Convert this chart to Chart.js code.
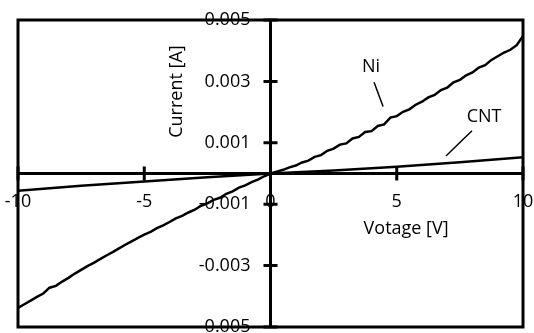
<!DOCTYPE html>
<html>
<head>
<meta charset="utf-8">
<script src="https://cdn.jsdelivr.net/npm/chart.js@4"></script>
<style>
  body { margin: 0; background: #fff; }
  canvas { display: block; }
</style>
</head>
<body>
<canvas id="ivChart" width="534" height="333"></canvas>
<script>
// voltage sweep (V)
const voltage = [
  -10, -9.75, -9.5, -9.25, -9, -8.75, -8.5, -8.25, -8, -7.75,
  -7.5, -7.25, -7, -6.75, -6.5, -6.25, -6, -5.75, -5.5, -5.25,
  -5, -4.75, -4.5, -4.25, -4, -3.75, -3.5, -3.25, -3, -2.75,
  -2.5, -2.25, -2, -1.75, -1.5, -1.25, -1, -0.75, -0.5, -0.25,
  0, 0.25, 0.5, 0.75, 1, 1.25, 1.5, 1.75, 2, 2.25,
  2.5, 2.75, 3, 3.25, 3.5, 3.75, 4, 4.25, 4.5, 4.75,
  5, 5.25, 5.5, 5.75, 6, 6.25, 6.5, 6.75, 7, 7.25,
  7.5, 7.75, 8, 8.25, 8.5, 8.75, 9, 9.25, 9.5, 9.75, 10
];

// Ni current (A)
const niCurrent = [
  -0.00438, -0.00426, -0.00414, -0.00402, -0.00391, -0.00372, -0.00366, -0.00352, -0.00340, -0.00326,
  -0.00314, -0.00302, -0.00291, -0.00279, -0.00267, -0.00256, -0.00244, -0.00232, -0.00221, -0.00210,
  -0.00199, -0.00190, -0.00178, -0.00169, -0.00158, -0.00146, -0.00138, -0.00127, -0.00118, -0.00105,
  -0.00097, -0.00086, -0.00079, -0.00066, -0.00058, -0.00046, -0.00039, -0.00028, -0.00020, -0.00009,
  0, 0.00006, 0.00012, 0.00020, 0.00026, 0.00036, 0.00042, 0.00054, 0.00060, 0.00074,
  0.00081, 0.00094, 0.00098, 0.00114, 0.00119, 0.00135, 0.00138, 0.00155, 0.00160, 0.00182,
  0.00187, 0.00201, 0.00209, 0.00224, 0.00234, 0.00248, 0.00256, 0.00272, 0.00280, 0.00297,
  0.00305, 0.00320, 0.00329, 0.00345, 0.00353, 0.00370, 0.00382, 0.00394, 0.00403, 0.00418, 0.00448
];

// CNT current (A)
const cntVoltage = [-10, -7.5, -5, -2.5, 0, 2.5, 5, 7.5, 10];
const cntCurrent = [-0.00056, -0.00040, -0.00026, -0.00012, 0, 0.00010, 0.00022, 0.00037, 0.00053];

const xTicks = [-10, -5, 0, 5, 10];
const yTicks = [-0.005, -0.003, -0.001, 0.001, 0.003, 0.005];
const xTitle = 'Votage [V]';
const yTitle = 'Current [A]';

// labels with leader lines, placed in data units
const callouts = [
  { text: 'Ni', at: [3.98, 0.00347], from: [4.1, 0.00297], to: [4.46, 0.00218] },
  { text: 'CNT', at: [8.46, 0.00185], from: [7.98, 0.00139], to: [6.95, 0.00057] }
];

const FONT = '18px "Open Sans"';

const axesPlugin = {
  id: 'crossAxes',
  beforeDatasetsDraw(chart) {
    const ctx = chart.ctx;
    const xs = chart.scales.x, ys = chart.scales.y;
    const x0 = xs.getPixelForValue(0), y0 = ys.getPixelForValue(0);
    ctx.save();
    ctx.fillStyle = '#000';
    ctx.font = FONT;
    // tick labels
    ctx.textAlign = 'right';
    ctx.textBaseline = 'middle';
    yTicks.forEach(v => ctx.fillText(v.toFixed(3), x0 - 20, ys.getPixelForValue(v)));
    ctx.textAlign = 'center';
    xTicks.forEach(v => ctx.fillText(String(v), xs.getPixelForValue(v), y0 + 28));
    // axis titles
    ctx.fillText(xTitle, xs.getPixelForValue(5.37), ys.getPixelForValue(-0.00179));
    ctx.save();
    ctx.translate(xs.getPixelForValue(-3.72), ys.getPixelForValue(0.00267));
    ctx.rotate(-Math.PI / 2);
    ctx.fillText(yTitle, 0, 0);
    ctx.restore();
    ctx.restore();
  },
  afterDatasetsDraw(chart) {
    const ctx = chart.ctx;
    const a = chart.chartArea;
    const xs = chart.scales.x, ys = chart.scales.y;
    const x0 = xs.getPixelForValue(0), y0 = ys.getPixelForValue(0);
    ctx.save();
    ctx.strokeStyle = '#000';
    ctx.lineWidth = 3;
    ctx.strokeRect(a.left, a.top, a.right - a.left, a.bottom - a.top);
    ctx.beginPath();
    ctx.moveTo(a.left, y0); ctx.lineTo(a.right, y0);
    ctx.moveTo(x0, a.top); ctx.lineTo(x0, a.bottom);
    // crossing tick marks
    xTicks.forEach(v => {
      const px = xs.getPixelForValue(v);
      ctx.moveTo(px, y0 - 7); ctx.lineTo(px, y0 + 7);
    });
    yTicks.forEach(v => {
      const py = ys.getPixelForValue(v);
      ctx.moveTo(x0 - 7, py); ctx.lineTo(x0 + 7, py);
    });
    ctx.stroke();
    // callouts
    ctx.lineWidth = 1.5;
    ctx.fillStyle = '#000';
    ctx.font = FONT;
    ctx.textAlign = 'center';
    ctx.textBaseline = 'middle';
    callouts.forEach(c => {
      ctx.fillText(c.text, xs.getPixelForValue(c.at[0]), ys.getPixelForValue(c.at[1]));
      ctx.beginPath();
      ctx.moveTo(xs.getPixelForValue(c.from[0]), ys.getPixelForValue(c.from[1]));
      ctx.lineTo(xs.getPixelForValue(c.to[0]), ys.getPixelForValue(c.to[1]));
      ctx.stroke();
    });
    ctx.restore();
  }
};

new Chart(document.getElementById('ivChart'), {
  type: 'scatter',
  data: {
    datasets: [
      {
        label: 'Ni',
        data: voltage.map((v, i) => ({ x: v, y: niCurrent[i] })),
        showLine: true,
        borderColor: '#000',
        borderWidth: 2.5,
        pointRadius: 0,
        tension: 0
      },
      {
        label: 'CNT',
        data: cntVoltage.map((v, i) => ({ x: v, y: cntCurrent[i] })),
        showLine: true,
        borderColor: '#000',
        borderWidth: 2.5,
        pointRadius: 0,
        tension: 0
      }
    ]
  },
  options: {
    responsive: false,
    animation: false,
    layout: { padding: { left: 18, right: 11, top: 20, bottom: 6 } },
    plugins: { legend: { display: false }, tooltip: { enabled: false } },
    scales: {
      x: { type: 'linear', min: -10, max: 10, display: false },
      y: { type: 'linear', min: -0.005, max: 0.005, display: false }
    }
  },
  plugins: [axesPlugin]
});
</script>
</body>
</html>
